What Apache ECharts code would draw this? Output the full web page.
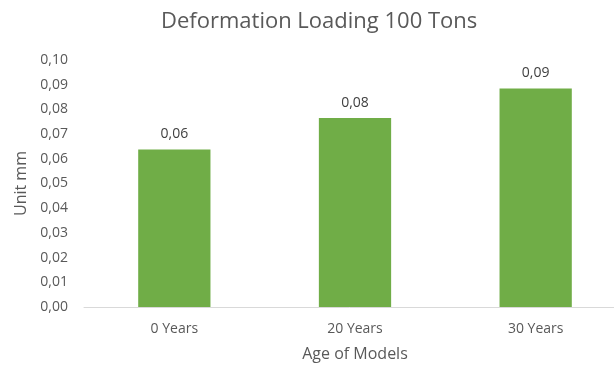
<!DOCTYPE html>
<html><head><meta charset="utf-8">
<script src="https://cdn.jsdelivr.net/npm/echarts@6/dist/echarts.min.js"></script>
<style>html,body{margin:0;padding:0;background:#fff}#c{width:614px;height:365px}</style>
</head><body><div id="c"></div>
<script>
const categories = ["0 Years", "20 Years", "30 Years"];
const deformation = [0.0638, 0.0765, 0.0885];
const yMin = 0, yMax = 0.10, yStep = 0.01;

const fmt = v => v.toFixed(2).replace('.', ',');
const FONT = '"Open Sans", "Noto Sans", sans-serif';
const chart = echarts.init(document.getElementById('c'));
chart.setOption({
  animation: false,
  title: {
    text: 'Deformation Loading 100 Tons', left: 156, top: 6,
    textStyle: { fontFamily: FONT, fontSize: 22, fontWeight: 'normal', color: '#595959' }
  },
  grid: { left: 84, width: 542, top: 60, height: 247, outerBoundsMode: 'none', containLabel: false },
  xAxis: {
    type: 'category', data: categories,
    name: 'Age of Models', nameLocation: 'middle', nameGap: 39,
    nameTextStyle: { fontFamily: FONT, fontSize: 16, color: '#595959' },
    axisLine: { lineStyle: { color: '#D9D9D9', width: 1 } },
    axisTick: { show: false },
    axisLabel: { fontFamily: FONT, fontSize: 14, color: '#595959', margin: 15 }
  },
  yAxis: {
    type: 'value', min: yMin, max: yMax, interval: yStep,
    name: 'Unit mm', nameLocation: 'middle', nameGap: 55, nameRotate: 90,
    nameTextStyle: { fontFamily: FONT, fontSize: 16, color: '#595959' },
    axisLine: { show: false }, axisTick: { show: false }, splitLine: { show: false },
    axisLabel: { fontFamily: FONT, fontSize: 14, color: '#595959', margin: 16, formatter: v => fmt(v) }
  },
  series: [{
    type: 'bar', data: deformation, barCategoryGap: '60%',
    itemStyle: { color: '#70AD47' },
    label: { show: true, position: 'top', distance: 8, fontFamily: FONT, fontSize: 14, color: '#404040', formatter: p => fmt(p.value) }
  }]
});
</script></body></html>
